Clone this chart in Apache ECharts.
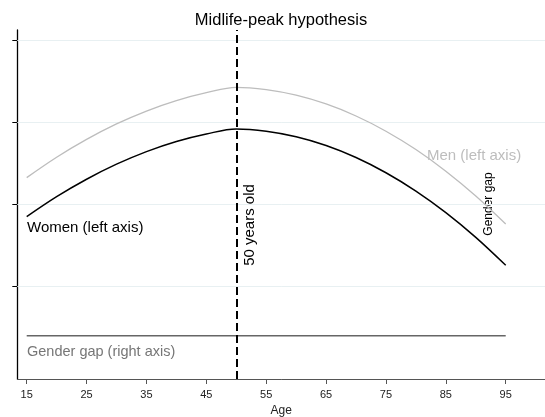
<!DOCTYPE html>
<html>
<head>
<meta charset="utf-8">
<script src="https://cdn.jsdelivr.net/npm/echarts@6/dist/echarts.min.js"></script>
<style>html,body{margin:0;padding:0;background:#fff;}#c{width:545px;height:417px;}</style>
</head>
<body>
<div id="c"></div>
<script>
const ages = [15,20,25,30,35,40,45,50,55,60,65,70,75,80,85,90,95];
const men = [2.326,2.574,2.791,2.979,3.136,3.263,3.359,3.425,3.396,3.329,3.222,3.076,2.891,2.668,2.405,2.103,1.762];
const women = [1.852,2.095,2.307,2.490,2.643,2.766,2.857,2.918,2.890,2.823,2.717,2.571,2.386,2.163,1.901,1.600,1.260];
const gap = [0.404,0.404,0.404,0.404,0.404,0.404,0.404,0.404,0.404,0.404,0.404,0.404,0.404,0.404,0.404,0.404,0.404];
const xTicks = [15,25,35,45,55,65,75,85,95];
const yTicks = [1,2,3,4];
const peakAge = 50;

const FONT = "'Liberation Sans', Arial, sans-serif";
const pair = (xs, ys) => xs.map((x, i) => [x, ys[i]]);

const chart = echarts.init(document.getElementById('c'), null, {renderer: 'canvas'});
chart.setOption({
  animation: false,
  backgroundColor: '#fff',
  grid: {left: 17.3, right: 0, top: 30, bottom: 38, containLabel: false, outerBoundsMode: 'none'},
  xAxis: {
    type: 'value', min: 13.43, max: 101.56,
    name: 'Age', nameLocation: 'middle', nameGap: 23,
    nameTextStyle: {fontFamily: FONT, fontSize: 12, color: '#222'},
    axisLine: {show: true, onZero: false, lineStyle: {color: '#555', width: 1}},
    axisTick: {show: true, length: 5, customValues: xTicks, lineStyle: {color: '#555', width: 1}},
    axisLabel: {customValues: xTicks, fontFamily: FONT, fontSize: 11, color: '#222', margin: 10},
    splitLine: {show: false}
  },
  yAxis: [{
    type: 'value', min: -0.1225, max: 4.1216,
    axisLine: {show: true, lineStyle: {color: '#000', width: 1.3}},
    axisTick: {show: true, length: 5, customValues: yTicks, lineStyle: {color: '#000', width: 1}},
    axisLabel: {show: false, customValues: yTicks},
    splitLine: {show: false}
  }, {
    type: 'value', min: -0.1225, max: 4.1216, position: 'right',
    axisLine: {show: false}, axisTick: {show: false}, axisLabel: {show: false}, splitLine: {show: false}
  }],
  series: [
    {
      type: 'line', data: pair(ages, gap), yAxisIndex: 1, showSymbol: false, z: 2,
      lineStyle: {color: '#666', width: 1.5},
      markLine: {
        silent: true, symbol: 'none', label: {show: false}, z: 1,
        lineStyle: {color: '#e8f0f2', width: 1, type: 'solid'},
        data: yTicks.map(v => ({yAxis: v}))
      }
    },
    {
      type: 'line', data: pair(ages, men), showSymbol: false, smooth: 0.35, z: 3,
      lineStyle: {color: '#bdbdbd', width: 1.3}
    },
    {
      type: 'line', data: pair(ages, women), showSymbol: false, smooth: 0.35, z: 4,
      lineStyle: {color: '#000', width: 1.5},
      markLine: {
        silent: true, symbol: 'none', label: {show: false}, z: 5,
        lineStyle: {color: '#000', width: 2, type: [8, 4]},
        data: [{xAxis: peakAge}]
      }
    }
  ],
  graphic: [
    {type: 'text', x: 281, y: 20, style: {text: 'Midlife-peak hypothesis', font: '16.5px ' + FONT, fill: '#000', align: 'center', verticalAlign: 'middle'}},
    {type: 'text', x: 427, y: 156, style: {text: 'Men (left axis)', font: '15px ' + FONT, fill: '#bdbdbd', align: 'left', verticalAlign: 'middle'}},
    {type: 'text', x: 27, y: 228, style: {text: 'Women (left axis)', font: '15px ' + FONT, fill: '#000', align: 'left', verticalAlign: 'middle'}},
    {type: 'text', x: 27, y: 352, style: {text: 'Gender gap (right axis)', font: '14.5px ' + FONT, fill: '#767676', align: 'left', verticalAlign: 'middle'}},
    {type: 'text', x: 250, y: 225, rotation: Math.PI / 2, style: {text: '50 years old', font: '15px ' + FONT, fill: '#000', align: 'center', verticalAlign: 'middle'}},
    {type: 'text', x: 489, y: 204, rotation: Math.PI / 2, style: {text: 'Gender gap', font: '12px ' + FONT, fill: '#000', align: 'center', verticalAlign: 'middle'}}
  ]
});
</script>
</body>
</html>
